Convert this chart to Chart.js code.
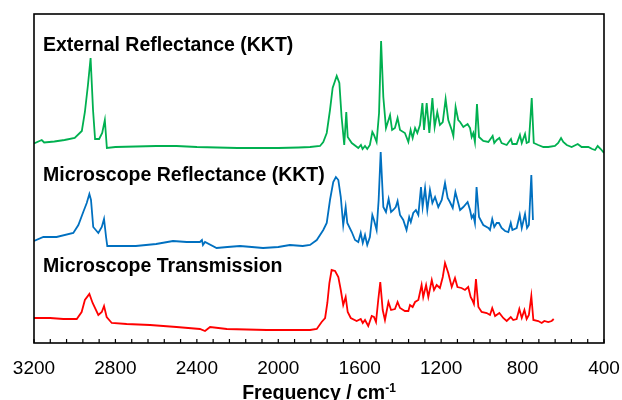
<!DOCTYPE html>
<html lang="en">
<head>
  <meta charset="UTF-8" />
  <title>IR Spectra</title>
  <script src="https://cdn.jsdelivr.net/npm/chart.js"></script>
  <style>
    body { margin: 0; background: #fff; font-family: Arial, "Liberation Sans", sans-serif; }
    #wrap { position: relative; width: 622px; height: 400px; }
    .lbl { position: absolute; left: 43px; font-weight: bold; font-size: 19.5px; color: #000; white-space: nowrap; line-height: 1; }
    #xtitle { position: absolute; left: 34px; width: 570px; top: 382px; text-align: center; font-weight: bold; font-size: 19.5px; line-height: 1; }
    #xtitle sup { font-size: 12px; vertical-align: 7px; }
  </style>
</head>
<body>
  <div id="wrap">
    <canvas id="spectra" width="622" height="400"></canvas>
    <div class="lbl" style="top:35px">External Reflectance (KKT)</div>
    <div class="lbl" style="top:165px">Microscope Reflectance (KKT)</div>
    <div class="lbl" style="top:256px">Microscope Transmission</div>
    <div id="xtitle">Frequency / cm<sup>-1</sup></div>
  </div>

  <script>
    // wavenumbers (cm-1) and offset intensities (arbitrary units)
    const greenWn = [3200,3162,3150,3100,3050,3000,2965,2950,2935,2922,2910,2900,2880,2865,2852,2842,2800,2700,2600,2500,2400,2300,2200,2100,2000,1900,1844,1795,1779,1762,1746,1733,1713,1700,1689,1676,1666,1659,1639,1607,1594,1586,1574,1563,1550,1538,1530,1517,1505,1495,1484,1471,1451,1441,1427,1414,1402,1378,1361,1350,1340,1328,1317,1304,1292,1284,1271,1258,1243,1232,1219,1206,1192,1178,1165,1148,1140,1129,1116,1107,1091,1070,1058,1050,1042,1034,1024,1014,993,968,947,939,927,914,903,878,857,850,829,813,804,788,780,769,755,745,723,698,674,641,625,611,600,583,559,529,510,477,458,444,431,416,400];
    const greenVal = [199.5,203,200.5,201.5,203,205,212,231,258,285,233,204,204,210,223,195,196,196.5,197,197,196,195.5,195,195,195,195.5,196,197,201,210,233,255,267,260,226,198,231,206,200,195,198,194,197,194,198,211,208,201,230,302,246,215,228,213,215,225,213,210,201,213,205,215,210,218,240,213,240,210,245,216,231,218,221,244,223,213,207,236,223,221,216,219,215,206,210,201,239,206,202,201,207,200,203,205,200,198,204,199,199,208,200,209,200,201,245,200,198,196,196,197,200,205,201,198,196,199,196,196,194,193,197,194,190];

    const blueWn = [3200,3154,3089,3007,2982,2958,2941,2928,2920,2909,2884,2867,2856,2846,2840,2778,2700,2600,2517,2450,2385,2375,2370,2360,2303,2250,2188,2130,2075,2000,1943,1880,1844,1811,1779,1762,1746,1730,1717,1705,1693,1681,1669,1661,1639,1623,1607,1595,1585,1574,1563,1550,1538,1530,1517,1507,1497,1484,1471,1458,1446,1435,1423,1414,1402,1386,1370,1357,1349,1337,1324,1312,1299,1291,1279,1268,1255,1243,1230,1214,1197,1181,1168,1157,1143,1130,1116,1107,1091,1070,1058,1050,1042,1034,1026,1014,993,968,960,949,939,927,916,903,886,870,858,850,829,814,804,788,778,769,757,749];
    const blueVal = [102,106,106,110,118,131,140,149,143,116,110,116,124,106,97,97,97,99,102,101,101,103,98,101,95,96,97,96,95,96,98,97,98,103,113,120,143,161,166,163,146,118,136,120,111,103,101,110,100,108,98,106,128,123,113,143,191,136,131,144,131,133,136,142,128,123,113,126,121,130,133,128,156,136,155,133,153,140,146,136,143,160,145,141,135,151,140,133,136,141,133,125,128,120,156,126,118,115,113,124,116,120,120,115,112,111,120,113,115,128,115,129,115,118,168,123];

    const redWn = [3200,3121,3056,2990,2966,2950,2928,2912,2884,2867,2856,2843,2818,2745,2630,2500,2385,2360,2335,2253,2057,1844,1811,1787,1770,1759,1749,1738,1721,1705,1693,1681,1669,1659,1644,1615,1595,1585,1574,1558,1541,1530,1520,1509,1499,1487,1476,1459,1446,1427,1414,1402,1378,1361,1353,1340,1328,1312,1296,1288,1274,1263,1246,1235,1222,1206,1192,1181,1165,1148,1132,1120,1100,1083,1067,1055,1047,1039,1029,1017,1001,976,960,949,935,914,895,878,858,846,829,816,804,791,780,769,757,747,723,706,693,674,657,647];
    const redVal = [25,25,24,24,31,43,49,40,28,31,37,26,20,19,18,16,14,12,16,14,13,13,14,21,25,40,60,73,72,66,53,38,46,31,25,22,24,20,23,17,27,26,21,43,61,33,23,41,33,34,41,35,32,32,38,36,41,43,58,46,58,46,63,53,58,55,66,80,70,56,65,56,55,53,56,46,43,39,64,36,31,30,28,35,27,30,25,22,26,23,24,34,25,33,24,28,47,23,22,20,22,21,22,24];

    const xTicks = [3200, 2800, 2400, 2000, 1600, 1200, 800, 400];
    const minorStep = 80;

    const toPoints = (xs, ys) => xs.map((x, i) => ({ x: x, y: ys[i] }));

    // box around the plot plus small inward ticks on the bottom axis
    const framePlugin = {
      id: 'frame',
      afterDraw(chart) {
        const { ctx, chartArea: a, scales } = chart;
        ctx.save();
        ctx.strokeStyle = '#000';
        ctx.lineWidth = 1.6;
        ctx.strokeRect(a.left, a.top, a.right - a.left, a.bottom - a.top);
        ctx.lineWidth = 1.2;
        ctx.beginPath();
        for (let v = xTicks[0]; v >= xTicks[xTicks.length - 1]; v -= minorStep) {
          const px = scales.x.getPixelForValue(v);
          ctx.moveTo(px, a.bottom);
          ctx.lineTo(px, a.bottom - 4);
        }
        ctx.stroke();
        ctx.restore();
      }
    };

    // blank side axes just to pin the plot box
    const sideAxis = (pos, w) => ({
      position: pos,
      min: 0,
      max: 329,
      grid: { display: false },
      border: { display: false },
      ticks: { display: false },
      afterFit: s => { s.width = w; }
    });

    const ctx = document.getElementById('spectra').getContext('2d');
    new Chart(ctx, {
      type: 'line',
      data: {
        datasets: [
          { label: 'External Reflectance (KKT)', data: toPoints(greenWn, greenVal), borderColor: '#00b050' },
          { label: 'Microscope Reflectance (KKT)', data: toPoints(blueWn, blueVal), borderColor: '#0070c0' },
          { label: 'Microscope Transmission', data: toPoints(redWn, redVal), borderColor: '#ff0000' }
        ]
      },
      options: {
        responsive: false,
        animation: false,
        datasets: { line: { borderWidth: 1.8, pointRadius: 0, tension: 0, fill: false, yAxisID: 'y' } },
        layout: { padding: { left: 0, right: 0, top: 14, bottom: 0 } },
        plugins: { legend: { display: false }, tooltip: { enabled: false } },
        scales: {
          x: {
            type: 'linear',
            reverse: true,
            min: 400,
            max: 3200,
            afterFit: s => { s.height = 57; },
            afterBuildTicks: s => { s.ticks = xTicks.map(v => ({ value: v })); },
            grid: { display: false },
            border: { display: false },
            ticks: {
              color: '#000',
              padding: 0,
              maxRotation: 0,
              callback: v => String(v),
              font: { family: 'Arial, "Liberation Sans"', size: 19, lineHeight: 1.83 }
            }
          },
          y: sideAxis('left', 34),
          y2: sideAxis('right', 18)
        }
      },
      plugins: [framePlugin]
    });
  </script>
</body>
</html>
